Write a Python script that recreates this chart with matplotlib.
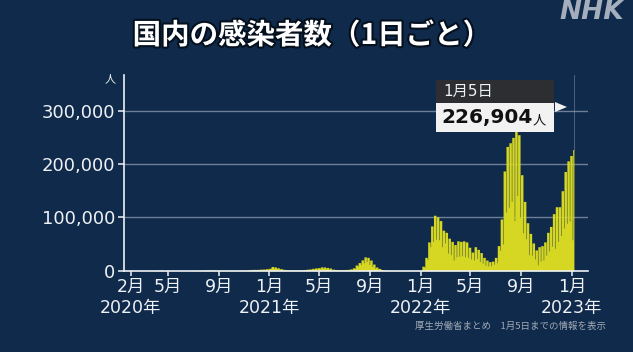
import matplotlib
matplotlib.use('Agg')
import matplotlib.pyplot as plt
import matplotlib.patheffects as pe
import matplotlib.transforms as mtrans
from matplotlib.patches import Rectangle, Polygon
import pandas as pd
import numpy as np

# ---------------- data ----------------
# Weekly readings of daily new cases: value on Monday (weekly low) and
# typical value for the rest of the week (weekly high). Weeks start Monday 2020-01-13.
first_monday = '2020-01-13'
last_day = '2023-01-05'
week_lows = [
    # 2020
    0, 0, 1, 0, 1, 5, 8, 15, 20, 15, 40, 90, 250, 350, 300, 170,
    90, 50, 30, 20, 30, 25, 35, 50, 90, 140, 230, 350, 590, 780,
    800, 660, 490, 430, 290, 380, 300, 360, 400, 300, 400, 480,
    600, 900, 1200, 1200, 1400, 1400, 1700, 1800, 2400,
    # 2021
    4900, 4900, 3700, 2100, 1800, 1200, 900, 700, 900, 600, 800, 800,
    1200, 1500, 2000, 2800, 3300, 4000, 4600, 3700, 2700, 1700, 1400,
    1000, 900, 1200, 1100, 1500, 2300, 4600, 8300, 11500, 14500,
    16800, 11600, 8000, 4800, 3200, 1100, 700, 400, 300, 170, 80, 90,
    70, 50, 70, 90, 100, 150, 200,
    # 2022
    800, 6000, 21000, 45000, 55000, 59000, 58000, 45000, 52000, 33000,
    30000, 20000, 26000, 27000, 28000, 26000, 25000, 22000, 20000,
    23000, 17000, 14000, 10000, 9000, 9000, 12000, 15000, 38000, 50000,
    110000, 119000, 130000, 94000, 141000, 100000, 71000, 60000, 30000,
    29000, 22000, 11000, 18000, 20000, 29000, 37000, 46000, 42000,
    55000, 66000, 80000, 89000, 93000,
    # 2023
    58000,
]
week_highs = [
    # 2020
    1, 2, 5, 3, 10, 15, 25, 35, 60, 50, 100, 250, 580, 700, 430, 250,
    120, 80, 45, 40, 50, 50, 70, 100, 250, 350, 600, 980, 1300, 1600,
    1200, 1200, 900, 650, 620, 600, 600, 650, 600, 700, 720, 800,
    1100, 1700, 2400, 2500, 2500, 3000, 3200, 3800, 4500,
    # 2021
    7900, 7100, 5500, 4000, 2600, 1800, 1500, 1300, 1300, 1300, 1500,
    2000, 2800, 3400, 4500, 5300, 5800, 7200, 7000, 6000, 5000, 3000,
    2300, 1800, 1800, 2000, 2400, 3400, 5400, 10700, 15200, 20300,
    25900, 25000, 20000, 12400, 6900, 4200, 2100, 1100, 700, 450, 300,
    250, 200, 200, 150, 150, 180, 200, 300, 500,
    # 2022
    8500, 25000, 54000, 84000, 104000, 101000, 94000, 76000, 72000,
    61000, 55000, 49000, 56000, 55000, 56000, 54000, 44000, 35000,
    45000, 40000, 34000, 25000, 20000, 17000, 18000, 25000, 47000,
    97000, 187000, 233000, 240000, 250000, 261000, 255000, 180000,
    130000, 90000, 70000, 52000, 39000, 45000, 47000, 54000, 72000,
    83000, 107000, 120000, 120000, 150000, 186000, 206000, 216000,
    # 2023
    226904,
]

tick_dates = ['2020-02-01', '2020-05-01', '2020-09-01', '2021-01-01',
              '2021-05-01', '2021-09-01', '2022-01-01', '2022-05-01',
              '2022-09-01', '2023-01-01']
tick_labels = ['2月', '5月', '9月', '1月', '5月', '9月', '1月', '5月', '9月', '1月']
year_dates = ['2020-02-01', '2021-01-01', '2022-01-01', '2023-01-01']
year_labels = ['2020年', '2021年', '2022年', '2023年']
y_ticks = [0, 100000, 200000, 300000]
latest_label = '1月5日'
latest_value = week_highs[-1]

title = '国内の感染者数（1日ごと）'
source = '厚生労働省まとめ　1月5日までの情報を表示'

# ---------------- build series (step: Monday low, Tue..Sun high) ----------------
mondays = pd.date_range(first_monday, periods=len(week_lows), freq='7D')
tuesdays = mondays + pd.Timedelta(days=1)
n = len(mondays)
dates = np.empty(2 * n + 1, dtype='datetime64[ns]')
dates[0:2 * n:2] = mondays.values
dates[1:2 * n:2] = tuesdays.values
dates[-1] = (pd.Timestamp(last_day) + pd.Timedelta(days=1)).to_datetime64()
values = np.empty(2 * n + 1)
values[0:2 * n:2] = week_lows
values[1:2 * n:2] = week_highs
values[-1] = week_highs[-1]

# ---------------- style ----------------
BG = '#0f2a4b'
YEL = '#d5d722'
WHITE = '#eef1f5'
GRID = '#6f7f95'
FONT = ['DejaVu Sans', 'Noto Sans CJK JP']
plt.rcParams['font.family'] = FONT

W, H = 633, 352
fig = plt.figure(figsize=(W / 100, H / 100), dpi=100)
fig.patch.set_facecolor(BG)

ax_l, ax_r, ax_t, ax_b = 124, 588, 75, 270.7
ax = fig.add_axes([ax_l / W, 1 - ax_b / H, (ax_r - ax_l) / W, (ax_b - ax_t) / H])
ax.set_facecolor(BG)

ax.fill_between(dates, values, 0, step='post', color=YEL, linewidth=0, zorder=2)

ax.set_xlim(pd.Timestamp('2020-01-16'), pd.Timestamp('2023-02-09'))
ax.set_ylim(0, 367000)

for s in ['top', 'right']:
    ax.spines[s].set_visible(False)
for s in ['left', 'bottom']:
    ax.spines[s].set_color(WHITE)
    ax.spines[s].set_linewidth(1.2)
    ax.spines[s].set_zorder(4)

ax.set_yticks(y_ticks)
ax.set_yticklabels([f'{v:,}' for v in y_ticks])
ax.set_xticks([pd.Timestamp(d) for d in tick_dates])
ax.set_xticklabels(tick_labels)
ax.tick_params(axis='y', colors=WHITE, labelsize=13, length=4.5, width=1.1, pad=2)
ax.tick_params(axis='x', colors=WHITE, labelsize=12.5, length=3.5, width=1.1, pad=1.5)

for v in y_ticks[1:]:
    ax.axhline(v, color=GRID, linewidth=1.0, zorder=1)

blend = mtrans.blended_transform_factory(ax.transData, ax.transAxes)
for d, lab in zip(year_dates, year_labels):
    ax.text(pd.Timestamp(d), -0.19, lab, transform=blend, ha='center', va='center',
            fontsize=12.5, color=WHITE)

# unit label
fig.text(110 / W, 1 - 79 / H, '人', fontsize=8, color=WHITE, ha='center', va='center',
         family=['Noto Sans CJK JP'])

# faint line at latest data point
last_ts = pd.Timestamp(last_day)
ax.plot([last_ts, last_ts], [latest_value, 367000], color='#8a97aa',
        linewidth=0.6, alpha=0.6, zorder=1)

# annotation box (figure pixel coordinates)
def fx(px):
    return px / W

def fy(py):
    return 1 - py / H

fig.patches.append(Rectangle((fx(436), fy(103)), fx(554) - fx(436), fy(80) - fy(103),
                             transform=fig.transFigure, facecolor='#2c2e31',
                             edgecolor='none', zorder=5))
fig.patches.append(Rectangle((fx(436), fy(132)), fx(554) - fx(436), fy(103) - fy(132),
                             transform=fig.transFigure, facecolor='#f2f2f2',
                             edgecolor='none', zorder=5))
fig.patches.append(Polygon([(fx(555), fy(102)), (fx(555), fy(112)), (fx(567), fy(107))],
                           closed=True, transform=fig.transFigure, facecolor='#f2f2f2',
                           edgecolor='none', zorder=5))
fig.text(fx(443), fy(91.5), latest_label, fontsize=11, color=WHITE, ha='left', va='center',
         family=FONT, zorder=6)
fig.text(fx(441), fy(118), f'{latest_value:,}', fontsize=14.5, color='#111111',
         fontweight='bold', ha='left', va='center', zorder=6)
fig.text(fx(533), fy(121), '人', fontsize=9.5, color='#111111', ha='left', va='center',
         family=['Noto Sans CJK JP'], zorder=6)

# title
fig.text(fx(312), fy(36), title, fontsize=20.5, color='white', fontweight='bold',
         ha='center', va='center', family=['Noto Sans CJK JP', 'DejaVu Sans'],
         path_effects=[pe.withStroke(linewidth=3, foreground='#05101e')])

# logo
fig.text(fx(592), fy(12), 'NHK', fontsize=19, color='#a4aebd', fontweight='bold',
         style='italic', ha='center', va='center', family=['DejaVu Sans'])

# source note
fig.text(fx(606), fy(326), source, fontsize=6.8, color='#a2aab6', ha='right', va='center',
         family=['Noto Sans CJK JP', 'DejaVu Sans'])

fig.savefig('out.png', dpi=100, facecolor=BG)
